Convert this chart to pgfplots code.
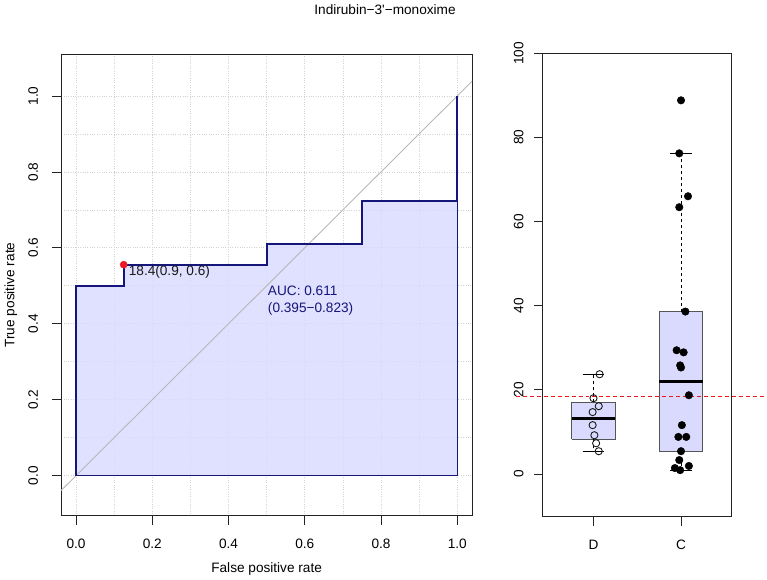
\documentclass[border=0pt]{standalone}
\usepackage{pgfplots}
\pgfplotsset{compat=1.18}
\usepackage{fontspec}
\setmainfont{Liberation Sans}

\definecolor{aucfill}{RGB}{218,218,255}
\definecolor{roccol}{RGB}{22,22,122}
\definecolor{framecol}{RGB}{35,35,35}
\definecolor{boxedge}{RGB}{85,85,85}
\definecolor{diagcol}{RGB}{185,185,185}
\definecolor{gridcol}{RGB}{210,210,210}
\definecolor{cutred}{RGB}{235,25,35}

\pgfplotsset{
  rpanel/.style={
    scale only axis, anchor=south west,
    tick align=outside, major tick length=9bp, minor tick length=0pt,
    xtick pos=left, ytick pos=left,
    tick style={framecol, line width=0.8bp},
    axis line style={framecol, line width=0.8bp},
    /pgf/number format/assume math mode=true,
    xticklabel style={anchor=north, inner sep=0pt, yshift=-14bp},
    % rotated labels: yshift moves them away from the axis
    yticklabel style={rotate=90, anchor=south, inner sep=0pt},
  }
}

\begin{document}
\fontsize{13.7bp}{16bp}\selectfont
\begin{tikzpicture}[x=1bp,y=1bp]
\path (0,0) rectangle (767,582);

\node[anchor=base] at (383.5,568) {Indirubin−3\textquotesingle−monoxime};
\node[anchor=base] at (264.5,7.5) {False positive rate};
\node[anchor=base, rotate=90] at (11,286) {True positive rate};

% ROC curve
\begin{axis}[rpanel,
  at={(58bp,64bp)}, width=413bp, height=464bp,
  xmin=-0.039, xmax=1.039, ymin=-0.106, ymax=1.11,
  xtick={0,0.2,0.4,0.6,0.8,1}, ytick={0,0.2,0.4,0.6,0.8,1},
  minor xtick={0.1,0.3,0.5,0.7,0.9}, minor ytick={0.1,0.3,0.5,0.7,0.9},
  grid=both,
  major grid style={draw=gridcol, dotted, line width=0.7bp},
  minor grid style={draw=gridcol, dotted, line width=0.7bp},
  xticklabel style={/pgf/number format/fixed, /pgf/number format/fixed zerofill, /pgf/number format/precision=1},
  yticklabel style={/pgf/number format/fixed, /pgf/number format/fixed zerofill, /pgf/number format/precision=1, yshift=14bp},
]
% area under the curve
\addplot[fill=aucfill, fill opacity=0.85, draw=roccol, line width=0.6bp] coordinates {
  (0,0) (0,0.5) (0.125,0.5) (0.125,0.5556) (0.5,0.5556) (0.5,0.6111)
  (0.75,0.6111) (0.75,0.7222) (1,0.7222) (1,1) (1,0) (0,0)};
% chance line
\addplot[diagcol, line width=0.9bp] coordinates {(-0.2,-0.2) (1.2,1.2)};
% empirical ROC steps
\addplot[roccol, line width=1.9bp] coordinates {
  (0,0) (0,0.5) (0.125,0.5) (0.125,0.5556) (0.5,0.5556) (0.5,0.6111)
  (0.75,0.6111) (0.75,0.7222) (1,0.7222) (1,1)};
% best threshold
\addplot[only marks, mark=*, mark size=3.6bp, color=cutred] coordinates {(0.125,0.5556)};
\node[anchor=west, inner sep=0pt, text=black!90] at (axis cs:0.138,0.5355) {18.4(0.9, 0.6)};
\node[anchor=west, inner sep=0pt, text=roccol] at (axis cs:0.503,0.486) {AUC: 0.611};
\node[anchor=west, inner sep=0pt, text=roccol] at (axis cs:0.503,0.439) {(0.395−0.823)};
\end{axis}

% values by group
\begin{axis}[rpanel,
  at={(542bp,63bp)}, width=190bp, height=466bp,
  xmin=0.42, xmax=2.58, ymin=-10.2, ymax=100,
  xtick={1,2}, xticklabels={D,C},
  ytick={0,20,40,60,80,100},
  yticklabel style={yshift=10bp},
  clip=false,
]
% group D
\addplot[fill=aucfill, draw=boxedge, line width=0.8bp] coordinates {(0.75,8.25) (1.25,8.25) (1.25,17.05) (0.75,17.05) (0.75,8.25)};
\addplot[black, line width=2.6bp] coordinates {(0.75,13.15) (1.25,13.15)};
\addplot[black, line width=0.8bp, dash pattern=on 3bp off 3bp] coordinates {(1,17.05) (1,23.7)};
\addplot[black, line width=0.8bp, dash pattern=on 3bp off 3bp] coordinates {(1,8.25) (1,5.4)};
\addplot[black, line width=0.8bp] coordinates {(0.875,23.7) (1.125,23.7)};
\addplot[black, line width=0.8bp] coordinates {(0.875,5.4) (1.125,5.4)};
% group C
\addplot[fill=aucfill, draw=boxedge, line width=0.8bp] coordinates {(1.75,5.4) (2.25,5.4) (2.25,38.6) (1.75,38.6) (1.75,5.4)};
\addplot[black, line width=2.6bp] coordinates {(1.75,22.0) (2.25,22.0)};
\addplot[black, line width=0.8bp, dash pattern=on 3bp off 3bp] coordinates {(2,38.6) (2,76.2)};
\addplot[black, line width=0.8bp, dash pattern=on 3bp off 3bp] coordinates {(2,5.4) (2,0.9)};
\addplot[black, line width=0.8bp] coordinates {(1.875,76.2) (2.125,76.2)};
\addplot[black, line width=0.8bp] coordinates {(1.875,0.9) (2.125,0.9)};
% individual values
\addplot[only marks, mark=o, mark size=3.6bp, mark options={draw=black!90, line width=0.9bp}] coordinates {
  (1.07,23.7) (1.00,18.0) (1.06,16.1) (0.99,14.7) (0.99,11.6) (1.01,9.2) (1.03,7.3) (1.06,5.4)};
\addplot[only marks, mark=*, mark size=3.8bp, color=black] coordinates {
  (2.00,88.8) (1.98,76.2) (2.08,66.0) (1.98,63.4) (2.05,38.6) (1.95,29.4)
  (2.03,28.9) (1.99,25.8) (2.00,25.3) (2.09,18.7) (2.01,11.6) (1.97,8.8)
  (2.06,8.8) (2.00,5.4) (1.98,3.3) (1.93,1.4) (1.99,0.9) (2.09,1.9)};
% cutoff
\addplot[cutred, line width=1bp, dash pattern=on 4bp off 3bp] coordinates {(0.113,18.4) (2.977,18.4)};
\end{axis}
\end{tikzpicture}
\end{document}
